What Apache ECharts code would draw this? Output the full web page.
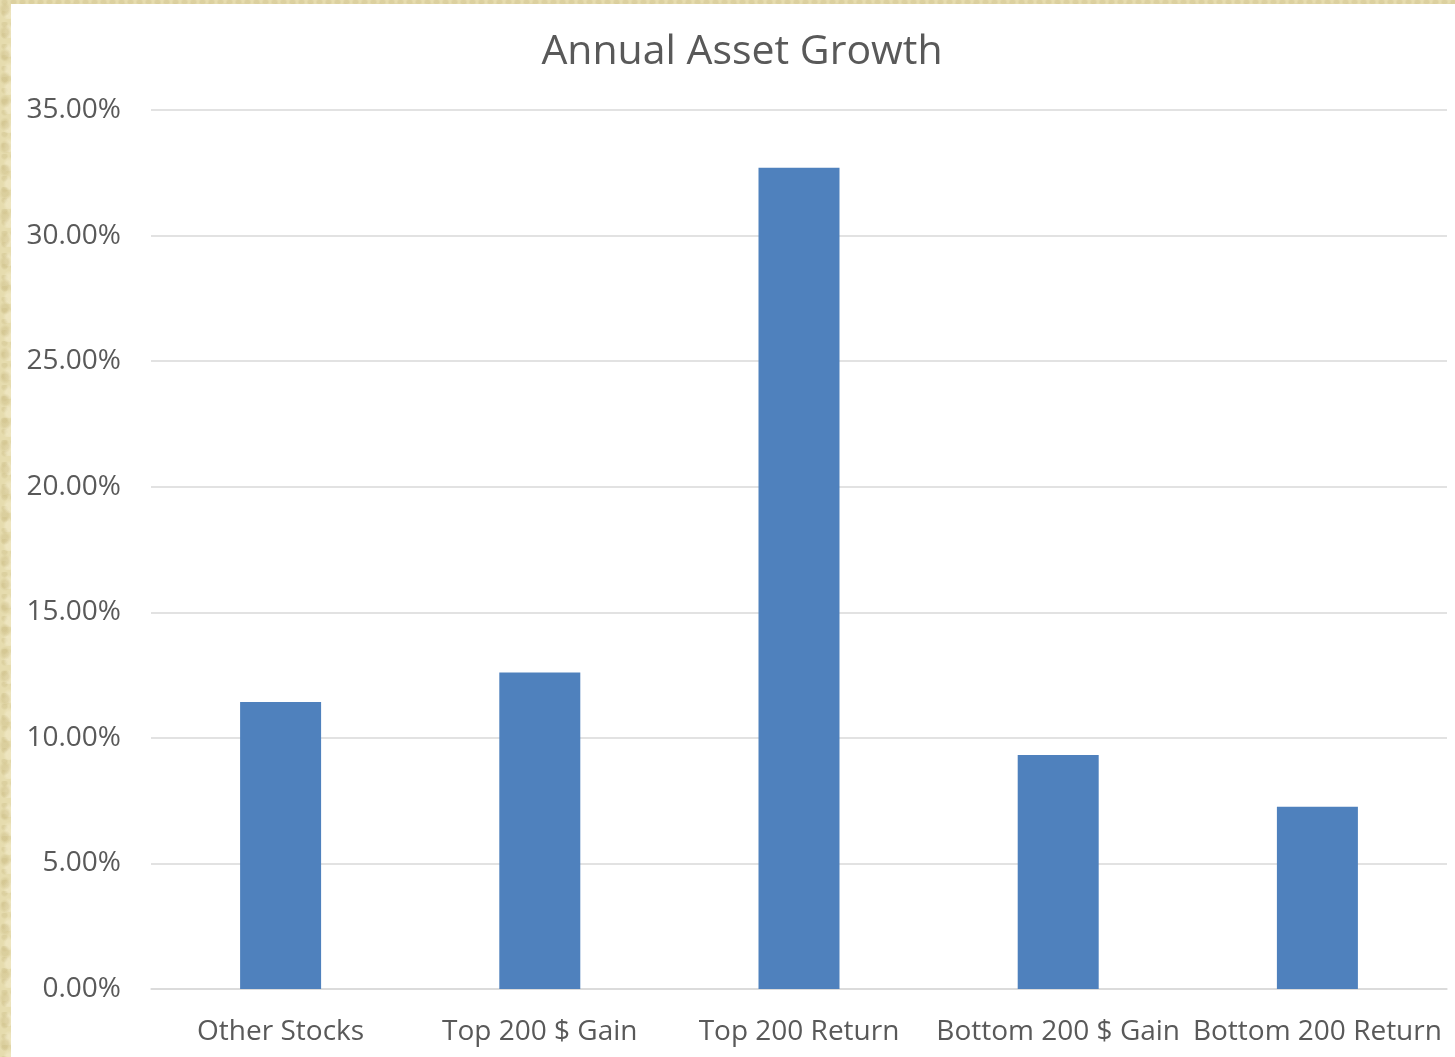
<!DOCTYPE html>
<html>
<head>
<meta charset="utf-8">
<title>Annual Asset Growth</title>
<script src="https://cdn.jsdelivr.net/npm/echarts@6/dist/echarts.min.js"></script>
<style>
  html, body { margin: 0; padding: 0; width: 1455px; height: 1057px; overflow: hidden; }
  body {
    background-color: #e6dcae;
    background-image:
      radial-gradient(ellipse at 30% 40%, rgba(205,190,135,0.45) 0 3px, transparent 6px),
      radial-gradient(ellipse at 70% 70%, rgba(244,237,206,0.55) 0 3px, transparent 6px),
      radial-gradient(circle at 50% 20%, rgba(195,180,125,0.3) 0 2px, transparent 4px);
    background-size: 17px 23px, 13px 19px, 9px 11px;
  }
  #chart { position: absolute; left: 11px; top: 4px; width: 1444px; height: 1053px; background: #ffffff; }
</style>
</head>
<body>
<div id="chart"></div>
<script>
  // Categories and annual growth rates (percent)
  const categories = ['Other Stocks', 'Top 200 $ Gain', 'Top 200 Return', 'Bottom 200 $ Gain', 'Bottom 200 Return'];
  const growth = [11.43, 12.60, 32.70, 9.32, 7.26];
  const yTicks = { min: 0, max: 35, step: 5 };

  const FONT = 'Open Sans';
  const chart = echarts.init(document.getElementById('chart'), null, { renderer: 'canvas' });
  chart.setOption({
    animation: false,
    backgroundColor: '#ffffff',
    title: {
      text: 'Annual Asset Growth',
      left: 726,
      textAlign: 'center',
      top: 23,
      textStyle: { fontFamily: FONT, fontSize: 41, fontWeight: 'normal', color: '#595959' }
    },
    grid: { left: 140, right: 8, top: 106, bottom: 68, containLabel: false },
    xAxis: {
      type: 'category',
      data: categories,
      axisLine: { lineStyle: { color: '#d9d9d9', width: 1.5 } },
      axisTick: { show: false },
      axisLabel: { fontFamily: FONT, fontSize: 28, color: '#595959', margin: 29, interval: 0 }
    },
    yAxis: {
      type: 'value',
      min: yTicks.min,
      max: yTicks.max,
      interval: yTicks.step,
      axisLine: { show: false },
      axisTick: { show: false },
      splitLine: { lineStyle: { color: '#d9d9d9', width: 1.5 } },
      axisLabel: {
        fontFamily: FONT, fontSize: 28, color: '#595959', margin: 30,
        padding: [4, 0, 0, 0],
        formatter: v => v.toFixed(2) + '%'
      }
    },
    series: [{
      type: 'bar',
      data: growth,
      barWidth: 81,
      itemStyle: { color: '#4f81bd' }
    }]
  });
</script>
</body>
</html>
